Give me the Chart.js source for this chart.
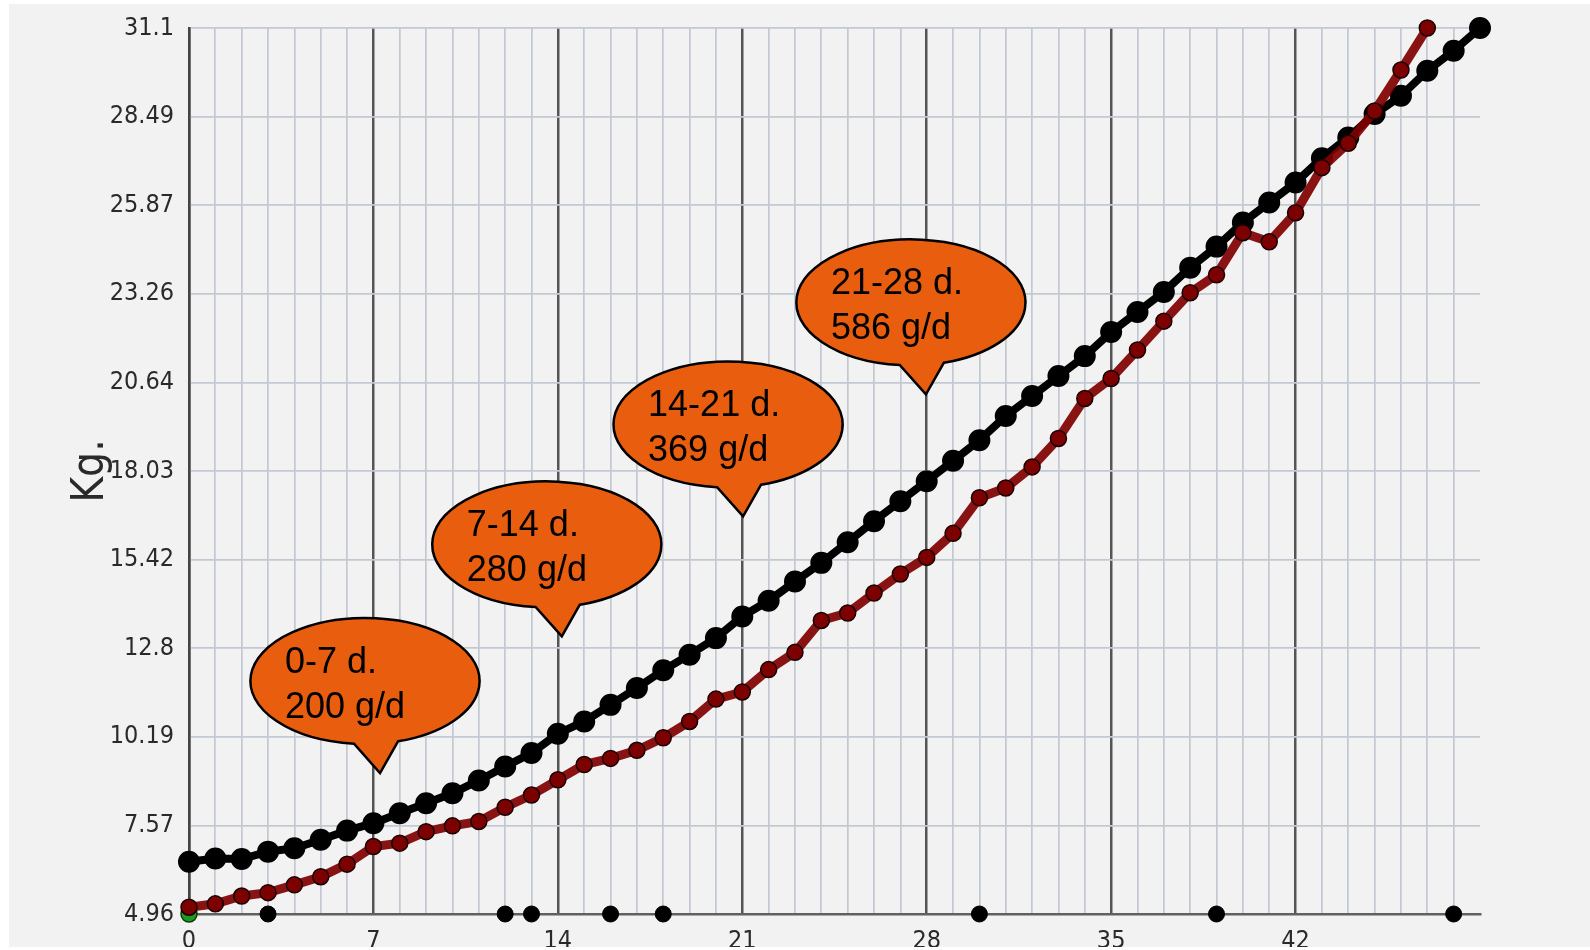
<!DOCTYPE html>
<html lang="en">
<head>
    <meta charset="UTF-8">
    <title>Weight curve</title>
    <style>
      body{margin:0;background:#fff;}
      #chart-container{position:absolute;left:9px;top:4px;width:1581px;height:943px;background:#f2f2f2;}
    </style>
</head>
<body>
    <div id="chart-container">
      <canvas id="line-chart" width="1581" height="943"></canvas>
    </div>
    <script src="https://cdn.jsdelivr.net/npm/chart.js"></script>
    <script>
    // day by day weights (kg)
    const days = [0,1,2,3,4,5,6,7,8,9,10,11,12,13,14,15,16,17,18,19,20,21,22,23,24,25,26,27,28,29,30,31,32,33,34,35,36,37,38,39,40,41,42,43,44,45,46,47,48,49]
    const referenceKg = [6.50,6.60,6.58,6.80,6.90,7.15,7.42,7.64,7.93,8.23,
      8.52,8.90,9.31,9.71,10.28,10.64,11.13,11.63,12.15,12.61,
      13.10,13.74,14.20,14.77,15.32,15.93,16.55,17.14,17.73,18.33,
      18.94,19.65,20.24,20.83,21.42,22.13,22.72,23.31,24.03,24.65,
      25.36,25.95,26.54,27.26,27.87,28.56,29.10,29.84,30.43,31.10]
    const measuredKg = [5.16,5.26,5.49,5.59,5.82,6.06,6.43,6.95,7.05,7.39,
      7.56,7.69,8.11,8.47,8.92,9.37,9.55,9.79,10.16,10.64,
      11.30,11.51,12.17,12.68,13.62,13.84,14.43,14.99,15.48,16.19,
      17.24,17.53,18.15,18.99,20.17,20.76,21.60,22.45,23.29,23.82,
      25.06,24.79,25.65,26.98,27.70,28.65,29.86,31.10]
    const eventDays = [3,12,13,16,18,30,39,48]
    const startDay = [0]
    const yTicks = [4.96,7.57,10.19,12.8,15.42,18.03,20.64,23.26,25.87,28.49,31.1]
    const xLabelEvery = 7

    // callouts: text lines + where the pointer touches (day, kg)
    const calloutLines = [['0-7 d.','200 g/d'],['7-14 d.','280 g/d'],['14-21 d.','369 g/d'],['21-28 d.','586 g/d']]
    const calloutDay = [7.25,14.15,21.03,27.97]
    const calloutKg = [9.12,13.15,16.69,20.29]

    const yMin = yTicks[0]
    const yMax = yTicks[yTicks.length-1]
    const xMax = days[days.length-1]
    const tickFont = {family:'"DejaVu Sans Condensed", "DejaVu Sans", sans-serif', size:25}

    const toPoints = (xs, ys) => ys.map((v,i) => ({x:xs[i], y:v}))

    const callouts = {
      id:'callouts',
      afterDatasetsDraw(chart){
        const c = chart.ctx
        const xs = chart.scales.x, ys = chart.scales.y
        const rx = 114.6, ry = 63
        const a1 = Math.acos(-11/rx), a2 = Math.acos(33/rx)
        calloutLines.forEach((lines,i) => {
          const tx = xs.getPixelForValue(calloutDay[i])
          const ty = ys.getPixelForValue(calloutKg[i])
          const cx = tx - 15, cy = ty - 92
          c.save()
          c.beginPath()
          c.ellipse(cx, cy, rx, ry, 0, a1, a2 + Math.PI*2, false)
          c.lineTo(tx, ty)
          c.closePath()
          c.fillStyle = '#e85e0e'
          c.fill()
          c.lineWidth = 2.5
          c.strokeStyle = '#000'
          c.stroke()
          c.fillStyle = '#000'
          c.font = '36px "Liberation Sans", Arial, sans-serif'
          c.textAlign = 'left'
          c.textBaseline = 'alphabetic'
          c.fillText(lines[0], cx - 80, cy - 8)
          c.fillText(lines[1], cx - 80, cy + 37)
          c.restore()
        })
      }
    }

    const chartId = document.getElementById('line-chart')
    const ctx = new Chart(chartId, {
      type:'line',
      data:{datasets:[
        {
          label:'measured',
          data:toPoints(days, measuredKg),
          borderColor:'rgba(128,0,0,0.92)',
          borderWidth:9,
          pointRadius:8,
          pointBackgroundColor:'#7d0000',
          pointBorderColor:'#1a0000',
          pointBorderWidth:1.5,
          tension:0,
          clip:false
        },
        {
          label:'start',
          data:startDay.map(d => ({x:d, y:yMin})),
          showLine:false,
          pointRadius:8,
          pointBackgroundColor:'#1f9a1f',
          pointBorderColor:'#0b3d0b',
          pointBorderWidth:1.5,
          clip:false
        },
        {
          label:'reference',
          data:toPoints(days, referenceKg),
          borderColor:'#000',
          borderWidth:8,
          pointRadius:7,
          pointBackgroundColor:'#000',
          pointBorderColor:'#000',
          tension:0,
          clip:false
        },
        {
          label:'events',
          data:eventDays.map(d => ({x:d, y:yMin})),
          showLine:false,
          pointRadius:8,
          pointBackgroundColor:'#000',
          pointBorderColor:'#000',
          clip:false
        }
      ]},
      options:{
        responsive:false,
        animation:false,
        layout:{padding:{left:0, top:24, right:110, bottom:0}},
        plugins:{legend:{display:false}, tooltip:{enabled:false}},
        scales:{
          x:{
            type:'linear',
            min:0,
            max:xMax,
            afterFit:(s) => { s.height = 33; s.paddingLeft = 0; s.paddingRight = 0 },
            border:{display:true, color:'#606060', width:2.5},
            grid:{
              drawTicks:false,
              color:(c) => {
                const v = c.tick ? c.tick.value : 0
                if (v === xMax) return 'rgba(0,0,0,0)'
                return v % xLabelEvery === 0 ? '#555' : '#c3c9d2'
              },
              lineWidth:(c) => (c.tick && c.tick.value % xLabelEvery === 0) ? 2.5 : 1.7
            },
            ticks:{
              stepSize:1,
              autoSkip:false,
              maxRotation:0,
              padding:12,
              color:'#2a2a2a',
              font:tickFont,
              callback:(v) => (v % xLabelEvery === 0 && v < xMax) ? String(v) : ''
            }
          },
          y:{
            min:yMin,
            max:yMax,
            afterBuildTicks:(s) => { s.ticks = yTicks.map(v => ({value:v})) },
            afterFit:(s) => { s.width = 180; s.paddingTop = 0; s.paddingBottom = 0 },
            border:{display:true, color:'#444', width:2.5},
            grid:{drawTicks:false, color:'#c3c9d2', lineWidth:1.7},
            ticks:{
              padding:15,
              color:'#2a2a2a',
              font:tickFont,
              callback:(v) => String(v)
            },
            title:{
              display:true,
              text:'Kg.',
              color:'#2a2a2a',
              font:{family:'"DejaVu Sans Condensed", "DejaVu Sans", sans-serif', size:44},
              padding:{top:56, bottom:0}
            }
          }
        }
      },
      plugins:[callouts]
    })
    </script>
</body>
</html>
